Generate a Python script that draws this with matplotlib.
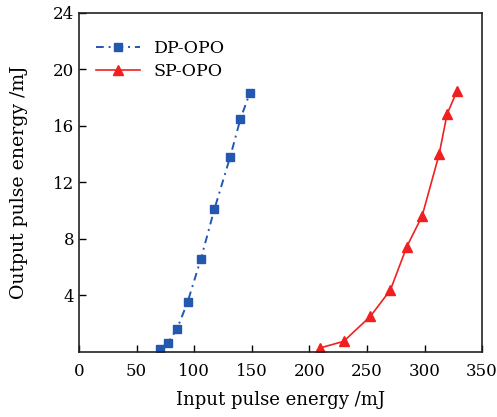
import matplotlib
matplotlib.use("Agg")
import matplotlib.pyplot as plt

dp_x = [70.4, 77.1, 85.2, 94.2, 105.8, 117.6, 131.3, 140.2, 148.4]
dp_y = [0.24, 0.64, 1.65, 3.51, 6.58, 10.12, 13.82, 16.51, 18.35]
sp_x = [209.2, 229.8, 253.0, 270.4, 284.6, 297.9, 312.7, 319.6, 328.3]
sp_y = [0.28, 0.75, 2.52, 4.39, 7.45, 9.62, 13.99, 16.84, 18.49]
x_ticks = [0, 50, 100, 150, 200, 250, 300, 350]
y_ticks = [4, 8, 12, 16, 20, 24]

plt.rcParams['font.family'] = ['DejaVu Serif']
plt.rcParams['mathtext.fontset'] = 'dejavuserif'

fig = plt.figure(figsize=(4.97, 4.17), dpi=100)
ax = fig.add_axes([0.159, 0.156, 0.811, 0.813])

ax.plot(dp_x, dp_y, color='#2457b0', linestyle=(0, (4, 2.5, 1, 2.5)), lw=1.4,
        marker='s', markersize=6, label='DP-OPO')
ax.plot(sp_x, sp_y, color='#f02020', linestyle='-', lw=1.2,
        marker='^', markersize=7.5, label='SP-OPO')

ax.set_xlim(0, 350)
ax.set_ylim(0, 24)
ax.set_xticks(x_ticks)
ax.set_yticks(y_ticks)
ax.tick_params(direction='in', labelsize=12, length=5, width=1.0)
for s in ax.spines.values():
    s.set_linewidth(1.2)
    s.set_color('#222222')
ax.set_xlabel('Input pulse energy /mJ', fontsize=13, labelpad=8)
ax.set_ylabel('Output pulse energy /mJ', fontsize=13.6, labelpad=18)
ax.tick_params(axis='x', pad=8)
ax.legend(loc='upper left', frameon=False, fontsize=12.5, handlelength=2.5,
          bbox_to_anchor=(0.0, 0.97), borderaxespad=0.6, labelspacing=0.3)

fig.savefig('out.png', dpi=100)
